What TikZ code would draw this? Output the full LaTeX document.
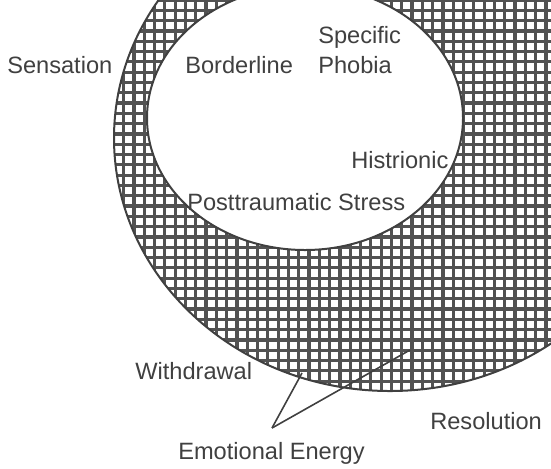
\documentclass[tikz,border=0pt]{standalone}
\usepackage{fontspec}
\setmainfont{Liberation Sans}
\usetikzlibrary{positioning}

\tikzset{
  lbl/.style={text=black!75, inner sep=0pt, anchor=base west,
    font=\fontsize{16.8}{20}\selectfont},
  rim/.style={draw=black!75, line width=0.5mm},
  mesh/.style={draw=black!68, line width=0.8mm},
  leg/.style={draw=black!75, line width=0.4mm},
}

\begin{document}
\begin{tikzpicture}[x=0.25mm,y=-0.25mm]
  \useasboundingbox (0,0) rectangle (551,468);

  \begin{scope}
  \clip (0,0) rectangle (551,468);
  % the hatched disk
  \begin{scope}
    \clip (390,138) ellipse [x radius=276, y radius=253];
    \foreach \i in {0,...,54}
      \draw[mesh] (\i*10.3,0) -- (\i*10.3,468);
    \foreach \j in {0,...,46}
      \draw[mesh] (0,\j*10.3) -- (551,\j*10.3);
  \end{scope}
  \draw[rim] (390,138) ellipse [x radius=276, y radius=253];

  % white inside
  \filldraw[rim, fill=white] (305,118) ellipse [x radius=158, y radius=132];
  \end{scope}

  \node[lbl] (sens) at (7,73) {Sensation};
  \node[lbl] (bord) at (185,73) {Borderline};
  \node[lbl] (spec) at (318,43) {Specific};
  \node[lbl] (phob) at (318,73) {Phobia};
  \node[lbl] (hist) at (351,168) {Histrionic};
  \node[lbl] (ptsd) at (187,210) {Posttraumatic Stress};
  \node[lbl] (with) at (135,379) {Withdrawal};
  \node[lbl] (reso) at (430,429) {Resolution};
  \node[lbl] (emo) at (178,459) {Emotional Energy};

  \coordinate (tip) at (272,428);
  \coordinate (edge) at (302,373);
  \coordinate (core) at (410,350);

  \draw[leg] (tip) -- (edge);
  \draw[leg] (tip) -- (core);

\end{tikzpicture}
\end{document}
